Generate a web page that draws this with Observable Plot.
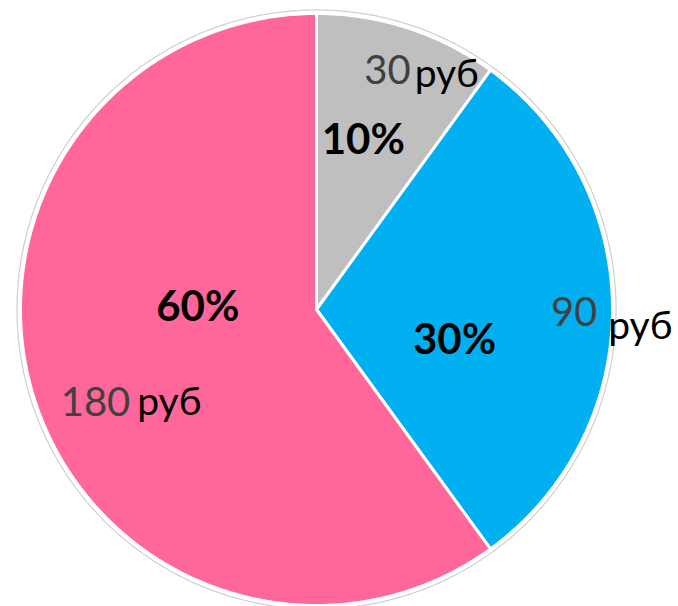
<!DOCTYPE html>
<html><head><meta charset="utf-8">
<script src="https://cdn.jsdelivr.net/npm/d3@7"></script>
<script src="https://cdn.jsdelivr.net/npm/@observablehq/plot@0.6"></script>
<style>html,body{margin:0;padding:0;background:#fff;overflow:hidden}</style>
</head><body><div id="chart"></div>
<script>
// ---- data ----
const categories = ["Категория 1", "Категория 2", "Категория 3"];
const values = [30, 90, 180];
const percentLabels = ["10%", "30%", "60%"];
const valueLabels = ["30", "90", "180"];
const unitLabel = "руб";
const colors = ["#BFBFBF", "#00B0F0", "#FF6699"];

// ---- layout (styles / offsets, pixels) ----
const W = 678, H = 606, R = 296, CX = 316, CY = 309;
const pctOffset = [[1, -28], [-10, 31], [22, -48]];       // from mid-angle @0.5R
const numOffset = [[21, -13.5], [44, 3.5], [39, 20.5]];  // from mid-angle @0.8R
const unitOffset = [[25, -9.5], [55, 17.5], [46, 19.5]];

const total = d3.sum(values);
let acc = 0;
const slices = categories.map((c, i) => {
  const a0 = acc / total * 2 * Math.PI;
  acc += values[i];
  const a1 = acc / total * 2 * Math.PI;
  return {category: c, i, a0, a1, mid: (a0 + a1) / 2};
});

const piePts = [];
for (const s of slices) {
  piePts.push({category: s.category, x: 0, y: 0});
  const n = Math.max(2, Math.ceil((s.a1 - s.a0) / (Math.PI / 360)));
  for (let k = 0; k <= n; k++) {
    const a = s.a0 + (s.a1 - s.a0) * k / n;
    piePts.push({category: s.category, x: Math.sin(a), y: Math.cos(a)});
  }
}
const ring = d3.range(0, 721).map(k => {
  const a = k / 720 * 2 * Math.PI;
  return {x: 1.012 * Math.sin(a), y: 1.012 * Math.cos(a)};
});

const pos = (s, r, off) => ({
  x: r * Math.sin(s.mid) + off[s.i][0] / R,
  y: r * Math.cos(s.mid) - off[s.i][1] / R
});
const pctData = slices.map(s => ({...pos(s, 0.5, pctOffset), t: percentLabels[s.i]}));
const numData = slices.map(s => ({...pos(s, 0.8, numOffset), t: valueLabels[s.i]}));
const unitData = slices.map(s => ({...pos(s, 0.8, unitOffset), t: unitLabel}));

const font = "Lato, 'Open Sans', sans-serif";
const chart = Plot.plot({
  width: W, height: H,
  marginLeft: CX - R, marginRight: W - (CX + R),
  marginTop: CY - R, marginBottom: H - (CY + R),
  x: {domain: [-1, 1], axis: null},
  y: {domain: [-1, 1], axis: null},
  color: {domain: categories, range: colors},
  style: {fontFamily: font, background: "#fff", overflow: "visible"},
  marks: [
    Plot.line(ring, {x: "x", y: "y", stroke: "#cfcfcf", strokeWidth: 1.2, curve: "linear-closed"}),
    Plot.line(piePts, {x: "x", y: "y", z: "category", fill: "category", stroke: "#fff", strokeWidth: 3, strokeLinejoin: "round", curve: "linear-closed"}),
    Plot.text(pctData, {x: "x", y: "y", text: "t", fontSize: 42, fontWeight: "bold", fill: "#000", textAnchor: "middle"}),
    Plot.text(numData, {x: "x", y: "y", text: "t", fontSize: 40, fill: "#404040", textAnchor: "end"}),
    Plot.text(unitData, {x: "x", y: "y", text: "t", fontSize: 39, fill: "#000", textAnchor: "start"})
  ]
});
document.getElementById("chart").appendChild(chart);
</script>
</body></html>
